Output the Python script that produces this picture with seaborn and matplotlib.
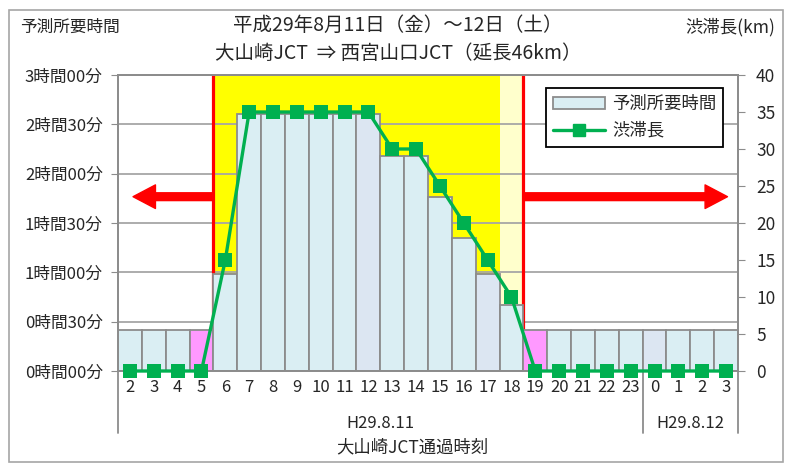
import numpy as np
import pandas as pd
import matplotlib
matplotlib.use('Agg')
import matplotlib.pyplot as plt
import seaborn as sns
from matplotlib.patches import Patch, Rectangle
from matplotlib.lines import Line2D

# --- data ---
hours = ['2', '3', '4', '5', '6', '7', '8', '9', '10', '11', '12', '13', '14', '15',
         '16', '17', '18', '19', '20', '21', '22', '23', '0', '1', '2', '3']
travel_min = [25, 25, 25, 25, 59, 156, 156, 156, 156, 156, 156, 131, 131, 106,
              81, 59, 40, 25, 25, 25, 25, 25, 25, 25, 25, 25]
jam_km = [0, 0, 0, 0, 15, 35, 35, 35, 35, 35, 35, 30, 30, 25,
          20, 15, 10, 0, 0, 0, 0, 0, 0, 0, 0, 0]
left_ticks = ['0時間00分', '0時間30分', '1時間00分', '1時間30分',
              '2時間00分', '2時間30分', '3時間00分']
day_labels = ['H29.8.11', 'H29.8.12']

sns.set_style('white')
plt.rcParams['font.family'] = ['Noto Sans CJK JP', 'DejaVu Sans']

df = pd.DataFrame({'pos': range(len(hours)), 'travel': travel_min, 'jam': jam_km})

# bar colours: pink at the start/end hour of the jam, a couple of slightly greyer bars
cols = ['#DAEEF3'] * len(hours)
for i in (10, 15, 22):
    cols[i] = '#DCE6F2'
cols[3] = '#FF99FF'
cols[17] = '#FF99FF'

fig = plt.figure(figsize=(7.92, 4.63), dpi=100)
ax = fig.add_axes([118 / 792, 1 - 371 / 463, 620 / 792, 296 / 463])

# highlighted period
ax.axvspan(3.5, 15.5, color='#FFFF00', zorder=0.1, lw=0)
ax.axvspan(15.5, 16.5, color='#FFFFCC', zorder=0.1, lw=0)
ax.axvline(3.5, color='#FF0000', lw=2.3, zorder=0.6)
ax.axvline(16.5, color='#FF0000', lw=2.3, zorder=0.6)

sns.barplot(data=df, x='pos', y='travel', hue='pos', palette=cols, legend=False,
            width=1.0, edgecolor='#8C8C8C', linewidth=1.3, saturation=1, ax=ax, zorder=1)

ax.set_ylim(0, 180)
ax.set_xlim(-0.5, len(hours) - 0.5)
ax.set_yticks(np.arange(0, 181, 30))
ax.set_yticklabels(left_ticks, fontsize=12)
ax.grid(axis='y', color='#A6A6A6', lw=1.3)
ax.set_axisbelow(True)
ax.set_xticks(range(len(hours)))
ax.set_xticklabels(hours, fontsize=12)
ax.set_xticks(np.arange(0.5, len(hours) - 1, 1), minor=True)
ax.tick_params(axis='x', which='major', length=0, pad=6)
ax.tick_params(axis='x', which='minor', length=31, color='#8C8C8C', width=1.3)
ax.tick_params(axis='y', length=5, color='#8C8C8C', pad=6)
ax.set_xlabel('')
ax.set_ylabel('')
for s in ax.spines.values():
    s.set_color('#8C8C8C')
    s.set_linewidth(1.3)

# longer separators for the date groups
trans = ax.get_xaxis_transform()
for xs in (-0.5, 21.5, 25.5):
    ax.plot([xs, xs], [0, -0.21], color='#8C8C8C', lw=1.3, transform=trans, clip_on=False)
ax.text(10.5, -0.176, day_labels[0], transform=trans, ha='center', va='center', fontsize=12)
ax.text(23.5, -0.176, day_labels[1], transform=trans, ha='center', va='center', fontsize=12)
ax.text(11.85, -0.258, '大山崎JCT通過時刻', transform=trans, ha='center', va='center', fontsize=12.5)

# red arrows
astyle = 'simple,head_length=0.95,head_width=1.0,tail_width=0.33'
ax.annotate('', xy=(0.13, 106), xytext=(3.5, 106),
            arrowprops=dict(arrowstyle=astyle, color='#FF0000', mutation_scale=17, shrinkA=0, shrinkB=0),
            zorder=3)
ax.annotate('', xy=(25.06, 106), xytext=(16.5, 106),
            arrowprops=dict(arrowstyle=astyle, color='#FF0000', mutation_scale=17, shrinkA=0, shrinkB=0),
            zorder=3)

# jam length line on the right axis
ax2 = ax.twinx()
sns.lineplot(data=df, x='pos', y='jam', color='#00B050', lw=2.4, marker='s',
             markersize=10, markeredgewidth=0, ax=ax2, zorder=4, clip_on=False)
ax2.set_ylim(0, 40)
ax2.set_yticks(np.arange(0, 41, 5))
ax2.tick_params(axis='y', length=5, color='#8C8C8C', labelsize=12.5, pad=8)
ax2.set_ylabel('')
ax2.set_xlabel('')
for s in ax2.spines.values():
    s.set_color('#8C8C8C')
    s.set_linewidth(1.3)

handles = [Patch(facecolor='#DAEEF3', edgecolor='#8C8C8C', lw=1.3),
           Line2D([], [], color='#00B050', lw=2.4, marker='s', markersize=8)]
leg = ax2.legend(handles, ['予測所要時間', '渋滞長'], loc='upper right',
                 bbox_to_anchor=(0.99, 0.985), fancybox=False, framealpha=1,
                 edgecolor='black', fontsize=12.5, handlelength=3.0,
                 borderpad=0.4, labelspacing=0.5, handletextpad=0.4)
leg.get_frame().set_linewidth(1.3)

# titles and axis captions
fig.text(0.5025, 1 - 25 / 463, '平成29年8月11日（金）～12日（土）', ha='center', va='center', fontsize=14)
fig.text(0.5025, 1 - 53 / 463, '大山崎JCT  ⇒ 西宮山口JCT（延長46km）', ha='center', va='center', fontsize=14)
fig.text(20 / 792, 1 - 27 / 463, '予測所要時間', ha='left', va='center', fontsize=12)
fig.text(775 / 792, 1 - 27 / 463, '渋滞長(km)', ha='right', va='center', fontsize=12.5)

# outer frame
fig.patches.append(Rectangle((9 / 792, 1 / 463), 774 / 792, 452 / 463, transform=fig.transFigure,
                             fill=False, edgecolor='#A6A6A6', lw=1.2))

fig.savefig('out.png', dpi=100)
